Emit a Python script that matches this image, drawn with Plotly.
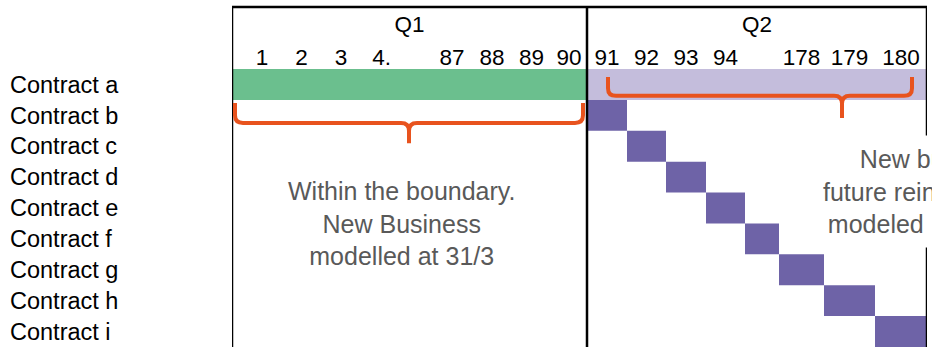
import plotly.graph_objects as go

# ---------------- data ----------------
contracts = ["Contract a", "Contract b", "Contract c", "Contract d", "Contract e",
             "Contract f", "Contract g", "Contract h", "Contract i"]
quarters = ["Q1", "Q2"]
q1_days = ["1", "2", "3", "4.", "", "87", "88", "89", "90"]
q2_days = ["91", "92", "93", "94", "", "178", "179", "180"]
# new-business contracts (b..i) and the Q2 day column each one is written in
nb_contracts = contracts[1:]
nb_day_col = [0, 1, 2, 3, 4, 5, 6, 7]
text_q1 = "Within the boundary.<br>New Business<br>modelled at 31/3"
text_q2 = "New business<br>future reinsurance to<br>modeled&nbsp;&nbsp;at Q2 end"

# ---------------- layout of the day grid (column widths) ----------------
Q1_PAD = 10
q1_widths = [40, 39, 40, 41, 30, 40, 40, 39, 36]
q2_widths = [40, 39, 40, 39, 34, 45, 51, 52]

q1_start = 0
q1_edges = [Q1_PAD]
for w in q1_widths:
    q1_edges.append(q1_edges[-1] + w)
q1_end = q1_edges[-1]
q2_edges = [q1_end]
for w in q2_widths:
    q2_edges.append(q2_edges[-1] + w)
q2_end = q2_edges[-1]

day_centers = [(q1_edges[i] + q1_edges[i + 1]) / 2 for i in range(len(q1_widths))] + \
              [(q2_edges[i] + q2_edges[i + 1]) / 2 for i in range(len(q2_widths))]
day_labels = q1_days + q2_days
quarter_centers = [(q1_start + q1_end) / 2, (q1_end + q2_end) / 2]

GREEN = "#6BBF8E"
LIGHT_PURPLE = "#C4BDDC"
PURPLE = "#6E63A7"
ORANGE = "#E8531E"
GREY = "#595959"
FONT = "Liberation Sans, Arial, sans-serif"

row = {c: i for i, c in enumerate(contracts)}

fig = go.Figure()
fig.add_trace(go.Bar(orientation="h", y=[row[contracts[0]]], base=[q1_start],
                     x=[q1_end - q1_start], width=1, marker=dict(color=GREEN, line_width=0),
                     hoverinfo="skip"))
fig.add_trace(go.Bar(orientation="h", y=[row[contracts[0]]], base=[q1_end],
                     x=[q2_end - q1_end], width=1, marker=dict(color=LIGHT_PURPLE, line_width=0),
                     hoverinfo="skip"))
fig.add_trace(go.Bar(orientation="h", y=[row[c] for c in nb_contracts],
                     base=[q2_edges[k] for k in nb_day_col],
                     x=[q2_widths[k] for k in nb_day_col], width=1,
                     marker=dict(color=PURPLE, line_width=0), hoverinfo="skip"))
# invisible trace to activate xaxis2 (quarter header)
fig.add_trace(go.Scatter(x=quarter_centers, y=[0, 0], xaxis="x2", mode="markers",
                         marker=dict(opacity=0), hoverinfo="skip"))

W, H = 932, 354
ML, MR, MT, MB = 6, 5, 69, 7
plot_w = W - ML - MR
plot_h = H - MT - MB
left_px = 232
dom0 = (left_px - ML) / plot_w
top_frame = 1 + (MT - 7) / plot_h

fig.update_layout(
    width=W, height=H, margin=dict(l=ML, r=MR, t=MT, b=MB),
    paper_bgcolor="white", plot_bgcolor="white", showlegend=False,
    barmode="overlay", font=dict(family=FONT, color="black"),
    xaxis=dict(range=[q1_start, q2_end], domain=[dom0, 1], side="top",
               tickvals=day_centers, ticktext=day_labels, ticks="",
               showgrid=False, zeroline=False, showline=False,
               tickfont=dict(size=22.5, color="black"), ticklabelstandoff=-1,
               fixedrange=True),
    xaxis2=dict(range=[q1_start, q2_end], overlaying="x", side="top", anchor="y",
                tickvals=quarter_centers, ticktext=quarters, ticks="",
                showgrid=False, zeroline=False, showline=False,
                tickfont=dict(size=22.5, color="black"), ticklabelstandoff=32),
    yaxis=dict(range=[len(contracts) - 0.5, -0.5], tickvals=list(range(len(contracts))),
               ticktext=contracts, anchor="free", position=0,
               ticklabelposition="inside", ticks="", showgrid=False,
               zeroline=False, showline=False,
               tickfont=dict(size=23.5, color="black")),
)

# frame lines
frame = dict(color="black", width=2.5)
for xv in [q1_start, q1_end, q2_end]:
    fig.add_shape(type="line", xref="x", yref="paper", x0=xv, x1=xv, y0=0, y1=top_frame,
                  line=frame)
fig.add_shape(type="line", xref="x", yref="paper", x0=q1_start, x1=q2_end,
              y0=top_frame, y1=top_frame, line=frame)


def brace(x0, x1, xm, yt, yh, yb, rx=8, ry=0.25):
    return (f"M {x0},{yt} L {x0},{yh - ry} Q {x0},{yh} {x0 + rx},{yh} "
            f"L {xm - rx},{yh} Q {xm},{yh} {xm},{yh + ry} L {xm},{yb} "
            f"M {xm},{yh + ry} Q {xm},{yh} {xm + rx},{yh} "
            f"L {x1 - rx},{yh} Q {x1},{yh} {x1},{yh - ry} L {x1},{yt}")


fig.add_shape(type="path", xref="x", yref="y",
              path=brace(3, 351, 177, 0.6, 1.25, 1.9),
              line=dict(color=ORANGE, width=4))
fig.add_shape(type="path", xref="x", yref="y",
              path=brace(376, 680, 610, -0.24, 0.37, 1.09),
              line=dict(color=ORANGE, width=4))

fig.add_annotation(x=169, y=4.5, xref="x", yref="y", text=text_q1, showarrow=False,
                   align="center", font=dict(size=25, color=GREY))
fig.add_annotation(x=q2_end, xshift=10, y=3.48, xref="x", yref="y", text=text_q2,
                   showarrow=False, align="center", font=dict(size=25, color=GREY),
                   bgcolor="white", borderpad=9)

fig.write_html("out.html")
